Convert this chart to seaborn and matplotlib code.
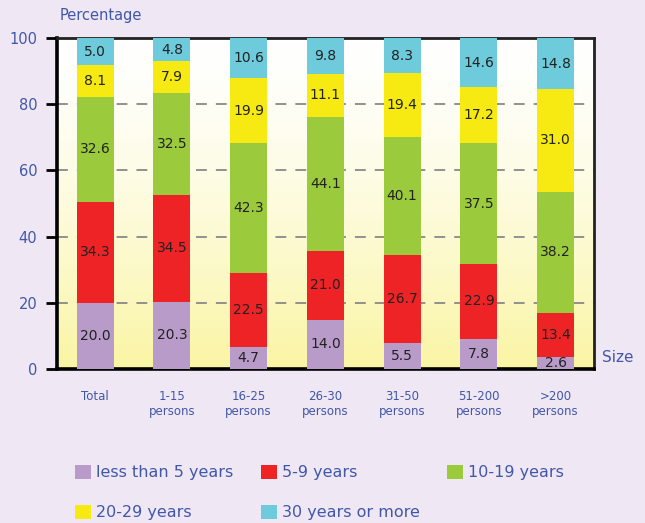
import numpy as np
import pandas as pd
import matplotlib
matplotlib.use("Agg")
import matplotlib.pyplot as plt
from matplotlib.colors import LinearSegmentedColormap
from matplotlib.patches import Patch
import seaborn as sns

# categories and printed values (labels on the chart)
sizes = ["Total", "1-15\npersons", "16-25\npersons", "26-30\npersons",
         "31-50\npersons", "51-200\npersons", ">200\npersons"]
lt5 = [20.0, 20.3, 4.7, 14.0, 5.5, 7.8, 2.6]
y5_9 = [34.3, 34.5, 22.5, 21.0, 26.7, 22.9, 13.4]
y10_19 = [32.6, 32.5, 42.3, 44.1, 40.1, 37.5, 38.2]
y20_29 = [8.1, 7.9, 19.9, 11.1, 19.4, 17.2, 31.0]
y30p = [5.0, 4.8, 10.6, 9.8, 8.3, 14.6, 14.8]

# segment heights as actually drawn in the original (they don't match the labels exactly)
h_lt5 = [20.0, 20.3, 6.5, 14.7, 7.8, 9.0, 3.4]
h_5_9 = [30.4, 32.4, 22.6, 21.0, 26.6, 22.7, 13.5]
h_10_19 = [31.9, 30.7, 39.1, 40.4, 35.6, 36.5, 36.7]
h_20_29 = [9.6, 9.7, 19.7, 13.2, 19.5, 17.0, 31.0]
h_30p = [8.1, 6.9, 12.1, 10.7, 10.5, 14.8, 15.4]

groups = ["less than 5 years", "5-9 years", "10-19 years", "20-29 years", "30 years or more"]
colors = ["#B99BC9", "#EE2326", "#9BCA3C", "#F6EA12", "#6DCBDC"]
labels = [lt5, y5_9, y10_19, y20_29, y30p]
heights = [h_lt5, h_5_9, h_10_19, h_20_29, h_30p]

df = pd.DataFrame({"size": sizes})
for g, h in zip(groups, heights):
    df[g] = h

text_blue = "#4157A8"
sns.set_theme(style="white")
plt.rcParams["font.family"] = ["DejaVu Sans"]

fig = plt.figure(figsize=(6.45, 5.23), dpi=100)
fig.patch.set_facecolor("#EFE7F4")
ax = fig.add_axes([0.088, 0.295, 0.833, 0.632])

# white-to-yellow gradient background
grad = np.linspace(0, 1, 256).reshape(-1, 1) ** 1.4
cmap = LinearSegmentedColormap.from_list("bg", ["#FFFFFF", "#FAF5A4"])
ax.imshow(grad, extent=[-0.5, 6.5, 0, 100], aspect="auto", cmap=cmap,
          origin="upper", zorder=0)

bottom = np.zeros(len(sizes))
for g, c in zip(groups, colors):
    sns.barplot(data=df, x="size", y=g, color=c, width=0.48, saturation=1,
                bottom=bottom, ax=ax, zorder=3, linewidth=0)
    bottom = bottom + df[g].values

for cont, lab in zip(ax.containers, labels):
    ax.bar_label(cont, labels=[f"{v:.1f}" for v in lab], label_type="center",
                 fontsize=10, color="#222222")

ax.set_xlim(-0.5, 6.5)
ax.set_ylim(0, 100)
ax.set_yticks([0, 20, 40, 60, 80, 100])
for yv in [20, 40, 60, 80]:
    ax.axhline(yv, color="#888888", lw=1.3, ls=(0, (6, 5)), zorder=1)

ax.set_xlabel("")
ax.set_ylabel("")
ax.tick_params(axis="y", direction="out", length=8, width=2, color="black",
               labelsize=10.5, labelcolor=text_blue, pad=6, left=True)
ax.tick_params(axis="x", length=0, labelsize=8.5, labelcolor=text_blue, pad=15)
for s in ["left", "bottom"]:
    ax.spines[s].set_linewidth(2.6)
    ax.spines[s].set_color("black")
for s in ["top", "right"]:
    ax.spines[s].set_linewidth(2)
    ax.spines[s].set_color("#222222")
ax.spines["top"].set_visible(True)
ax.spines["right"].set_visible(True)

fig.text(0.093, 0.97, "Percentage", fontsize=10.5, color=text_blue, va="center", ha="left")
fig.text(0.933, 0.317, "Size", fontsize=11, color=text_blue, va="center", ha="left")

# legend in three columns
cols = [[0, 3], [1, 4], [2]]
xs = [0.1163, 0.4047, 0.693]
for xi, idx in zip(xs, cols):
    handles = [Patch(facecolor=colors[i], edgecolor="none", label=groups[i]) for i in idx]
    leg = fig.legend(handles=handles, loc="upper left", bbox_to_anchor=(xi, 0.111),
                     frameon=False, fontsize=11.5, handlelength=1.0, handleheight=0.95,
                     handletextpad=0.3, labelspacing=1.55, borderaxespad=0,
                     borderpad=0)
    for t in leg.get_texts():
        t.set_color(text_blue)

fig.savefig("out.png", dpi=100, facecolor=fig.get_facecolor())
